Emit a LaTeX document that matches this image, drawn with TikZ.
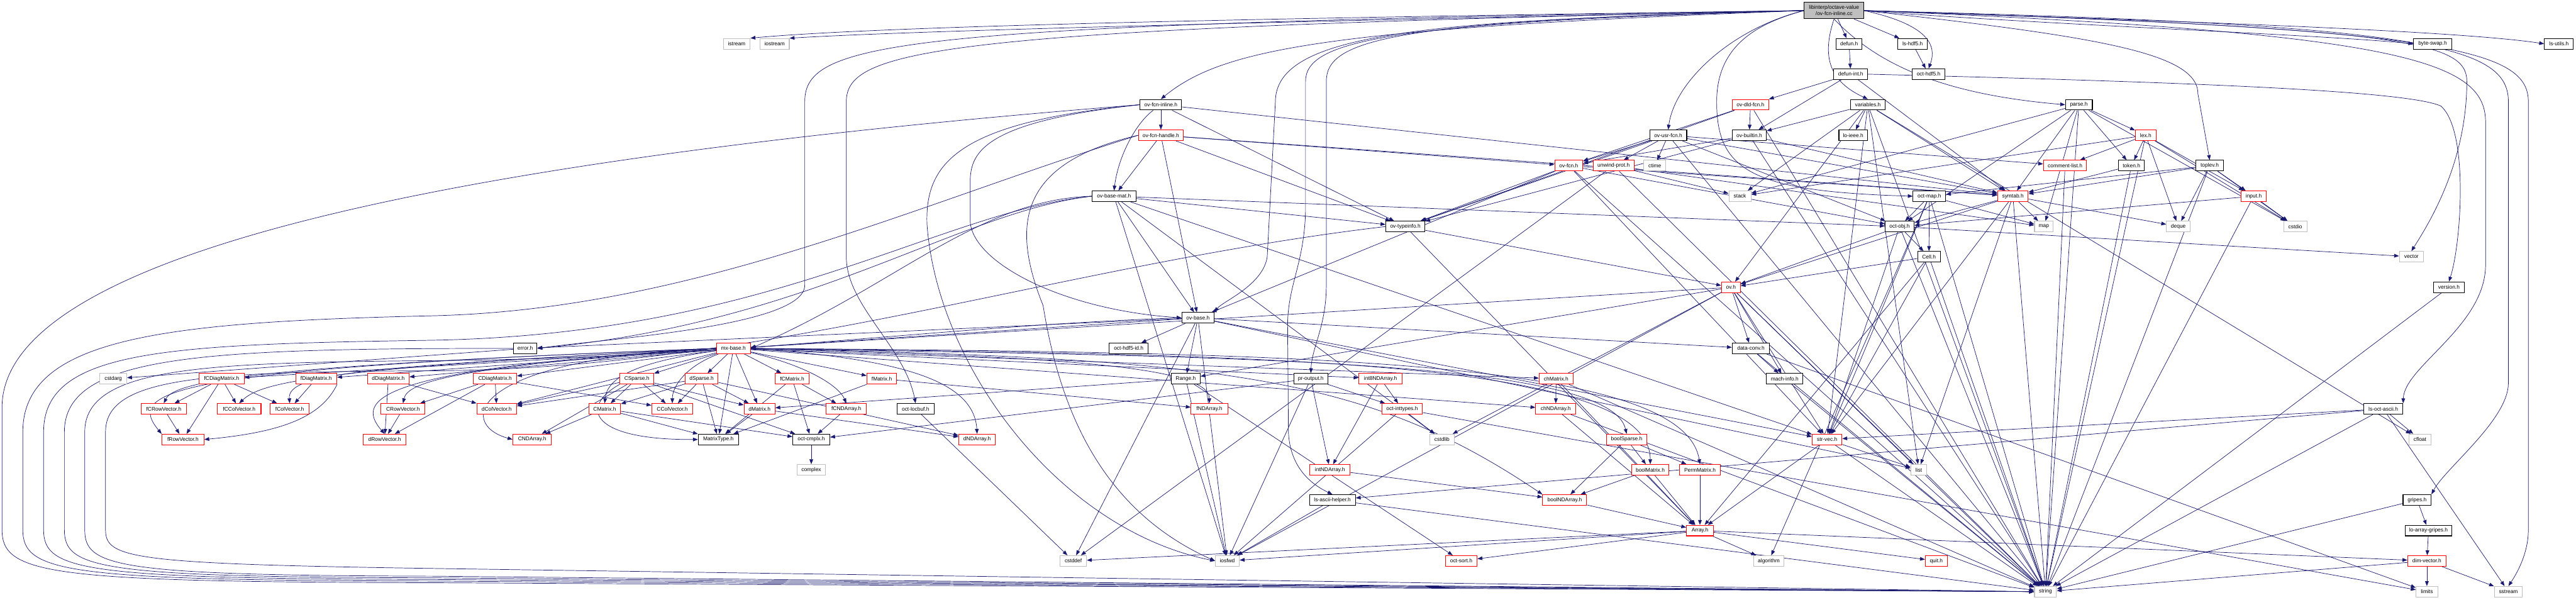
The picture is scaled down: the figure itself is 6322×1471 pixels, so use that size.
\documentclass[tikz,border=0pt]{standalone}
\usepackage{fontspec}
\setmainfont{Liberation Sans}
\usetikzlibrary{arrows.meta,backgrounds}
\definecolor{edgeblue}{HTML}{191970}
\definecolor{extgray}{HTML}{BFBFBF}
\definecolor{topgray}{HTML}{BFBFBF}
\definecolor{truncred}{HTML}{FF0000}
\tikzset{
  nbase/.style={rectangle, draw, line width=1.6bp, fill=white, font=\fontsize{13bp}{15bp}\selectfont, minimum height=26bp, inner xsep=5bp, inner ysep=2bp},
  doc/.style={nbase, draw=black},
  trunc/.style={nbase, draw=truncred},
  ext/.style={nbase, draw=extgray},
  conn/.style={draw=edgeblue, line width=1.1bp, -{Triangle[length=12bp,width=9bp]}},
}
\newcommand\mynode[6]{\node[#1,minimum width=#2bp] (#3) at (#4,#5) {#6};}
\newcommand\fan[2]{\foreach \tgt in {#2}{\draw[conn] (#1) -- (\tgt);}}
\begin{document}
\begin{tikzpicture}[x=1bp,y=-1bp]
\useasboundingbox (0,0) rectangle (6322,1471);
% ---------- nodes ----------
\node[doc, fill=topgray, minimum width=146bp, minimum height=40bp, align=center] (top) at (4501,26) {libinterp/octave-value\\/ov-fcn-inline.cc};
% R1
\mynode{ext}{66}{istream}{1808}{107.5}{istream}
\mynode{ext}{72}{iostream}{1901}{107.5}{iostream}
\mynode{doc}{64}{defun}{4538}{107.5}{defun.h}
\mynode{doc}{72}{lshdf5}{4694}{107.5}{ls-hdf5.h}
\mynode{doc}{93}{byteswap}{5970}{107.5}{byte-swap.h}
\mynode{doc}{71}{lsutils}{6280}{107.5}{ls-utils.h}
% R2
\mynode{doc}{83}{defunint}{4542}{182}{defun-int.h}
\mynode{doc}{80}{octhdf5}{4733}{182}{oct-hdf5.h}
% R3
\mynode{doc}{102}{fcninline}{2849}{257}{ov-fcn-inline.h}
\mynode{trunc}{90}{dldfcn}{4296}{257}{ov-dld-fcn.h}
\mynode{doc}{86}{variables}{4584}{257}{variables.h}
\mynode{doc}{66}{parse}{5102}{257}{parse.h}
% R4
\mynode{trunc}{110}{fcnhandle}{2849}{332}{ov-fcn-handle.h}
\mynode{doc}{91}{usrfcn}{4094}{332}{ov-usr-fcn.h}
\mynode{doc}{84}{builtin}{4293}{332}{ov-builtin.h}
\mynode{doc}{70}{loieee}{4548}{332}{lo-ieee.h}
\mynode{trunc}{51}{lex}{5266}{332}{lex.h}
% R5
\mynode{trunc}{69}{ovfcn}{3850}{406.5}{ov-fcn.h}
\mynode{trunc}{100}{unwind}{3960}{406.5}{unwind-prot.h}
\mynode{ext}{55}{ctime}{4061}{406.5}{ctime}
\mynode{trunc}{106}{commentlist}{5068}{406.5}{comment-list.h}
\mynode{doc}{64}{token}{5231}{406.5}{token.h}
\mynode{doc}{68}{toplev}{5423}{406.5}{toplev.h}
% R6
\mynode{doc}{107}{basemat}{2734}{481.5}{ov-base-mat.h}
\mynode{ext}{54}{stack}{4270}{481.5}{stack}
\mynode{doc}{80}{octmap}{4735}{481.5}{oct-map.h}
\mynode{trunc}{75}{symtab}{4940}{481.5}{symtab.h}
\mynode{trunc}{61}{input}{5531}{481.5}{input.h}
% R7
\mynode{doc}{96}{typeinfo}{3449}{556}{ov-typeinfo.h}
\mynode{doc}{71}{octobj}{4662}{556}{oct-obj.h}
\mynode{ext}{46}{map}{5016}{556}{map}
\mynode{ext}{58}{deque}{5346}{556}{deque}
\mynode{ext}{57}{cstdio}{5633}{556}{cstdio}
% R8
\mynode{doc}{56}{cell}{4734}{630}{Cell.h}
\mynode{ext}{59}{vector}{5918}{630}{vector}
% R9
\mynode{trunc}{46}{ovh}{4248}{705}{ov.h}
\mynode{doc}{75}{version}{6010}{705}{version.h}
% R10
\mynode{doc}{79}{ovbase}{2940}{780}{ov-base.h}
% R11
\mynode{doc}{58}{error}{1289}{855}{error.h}
\mynode{trunc}{83}{mxbase}{1800}{855}{mx-base.h}
\mynode{doc}{95}{hdf5id}{2770}{855}{oct-hdf5-id.h}
\mynode{doc}{92}{dataconv}{4297}{855}{data-conv.h}
% R12
\mynode{ext}{66}{cstdarg}{278}{929.5}{cstdarg}
\mynode{trunc}{110}{fCDiag}{544}{929.5}{fCDiagMatrix.h}
\mynode{trunc}{101}{fDiag}{776}{929.5}{fDiagMatrix.h}
\mynode{trunc}{102}{dDiag}{953}{929.5}{dDiagMatrix.h}
\mynode{trunc}{106}{CDiag}{1215}{929.5}{CDiagMatrix.h}
\mynode{trunc}{83}{CSparse}{1563}{929.5}{CSparse.h}
\mynode{trunc}{81}{dSparse}{1722}{929.5}{dSparse.h}
\mynode{trunc}{83}{fCMatrix}{1944}{929.5}{fCMatrix.h}
\mynode{trunc}{73}{fMatrix}{2164}{929.5}{fMatrix.h}
\mynode{doc}{71}{range}{2910}{929.5}{Range.h}
\mynode{doc}{83}{proutput}{3217}{929.5}{pr-output.h}
\mynode{trunc}{106}{int8ND}{3388}{929.5}{int8NDArray.h}
\mynode{trunc}{83}{chMatrix}{3819}{929.5}{chMatrix.h}
\mynode{doc}{90}{machinfo}{4380}{929.5}{mach-info.h}
% R13
\mynode{trunc}{112}{fCRow}{402}{1003.5}{fCRowVector.h}
\mynode{trunc}{107}{fCCol}{587}{1003.5}{fCColVector.h}
\mynode{trunc}{95}{fCol}{711}{1003.5}{fColVector.h}
\mynode{trunc}{108}{CRow}{989}{1003.5}{CRowVector.h}
\mynode{trunc}{98}{dCol}{1219}{1003.5}{dColVector.h}
\mynode{trunc}{78}{CMatrix}{1484}{1003.5}{CMatrix.h}
\mynode{trunc}{101}{CCol}{1650}{1003.5}{CColVector.h}
\mynode{trunc}{76}{dMatrix}{1864}{1003.5}{dMatrix.h}
\mynode{trunc}{98}{fCND}{2077}{1003.5}{fCNDArray.h}
\mynode{doc}{91}{locbuf}{2247}{1003.5}{oct-locbuf.h}
\mynode{trunc}{90}{fND}{2968}{1003.5}{fNDArray.h}
\mynode{trunc}{100}{inttypes}{3441}{1003.5}{oct-inttypes.h}
\mynode{trunc}{98}{chND}{3818}{1003.5}{chNDArray.h}
\mynode{doc}{96}{lsoctascii}{5849}{1003.5}{ls-oct-ascii.h}
% R14
\mynode{trunc}{103}{fRow}{449}{1078.5}{fRowVector.h}
\mynode{trunc}{106}{dRow}{944}{1078.5}{dRowVector.h}
\mynode{trunc}{95}{CND}{1306}{1078.5}{CNDArray.h}
\mynode{doc}{99}{matrixtype}{1763}{1078.5}{MatrixType.h}
\mynode{doc}{91}{cmplx}{1991}{1078.5}{oct-cmplx.h}
\mynode{trunc}{90}{dND}{2398}{1078.5}{dNDArray.h}
\mynode{ext}{59}{cstdlib}{3539}{1078.5}{cstdlib}
\mynode{trunc}{98}{boolSparse}{3992}{1078.5}{boolSparse.h}
\mynode{trunc}{73}{strvec}{4484}{1078.5}{str-vec.h}
\mynode{ext}{55}{cfloat}{5939}{1078.5}{cfloat}
% R15
\mynode{ext}{70}{complex}{1991}{1153}{complex}
\mynode{trunc}{99}{intND}{3264}{1153}{intNDArray.h}
\mynode{trunc}{92}{boolMatrix}{4050}{1153}{boolMatrix.h}
\mynode{trunc}{101}{perm}{4172}{1153}{PermMatrix.h}
\mynode{ext}{39}{list}{4709}{1153}{list}
% R16
\mynode{doc}{113}{lsascii}{3270}{1227}{ls-ascii-helper.h}
\mynode{trunc}{108}{boolND}{3840}{1227}{boolNDArray.h}
\mynode{doc}{69}{gripes}{5932}{1227}{gripes.h}
% R17
\mynode{trunc}{66}{array}{4172}{1302}{Array.h}
\mynode{doc}{115}{loarraygripes}{5960}{1302}{lo-array-gripes.h}
% R18
\mynode{ext}{65}{cstddef}{2634}{1376.5}{cstddef}
\mynode{ext}{59}{iosfwd}{3012}{1376.5}{iosfwd}
\mynode{trunc}{78}{octsort}{3586}{1376.5}{oct-sort.h}
\mynode{ext}{74}{algorithm}{4341}{1376.5}{algorithm}
\mynode{trunc}{54}{quit}{4752}{1376.5}{quit.h}
\mynode{trunc}{94}{dimvector}{5956}{1376.5}{dim-vector.h}
% R19
\mynode{ext}{54}{string}{5020}{1452}{string}
\mynode{ext}{53}{limits}{5956}{1452}{limits}
\mynode{ext}{69}{sstream}{6156}{1452}{sstream}
% ---------- edges ----------
\begin{scope}[on background layer]
\fill[white] (0,0) rectangle (6322,1471);
% top node
\fan{top}{defun,lshdf5}
\draw[conn] (top.west) .. controls (3400,40) and (2200,60) .. (istream.north east);
\draw[conn] (top.west) .. controls (3400,48) and (2300,72) .. (iostream.north east);
\draw[conn] (top.east) .. controls (4730,60) and (4755,110) .. (octhdf5.north);
\draw[conn] (top.west) .. controls (3250,70) and (3000,120) .. (fcninline.north);
\draw[conn] (top.west) .. controls (4250,70) and (4110,200) .. (usrfcn.north);
\draw[conn] (top.south) .. controls (4470,140) and (4490,200) .. (variables.north);
\draw[conn] (top.south) .. controls (4600,150) and (4750,230) .. (parse.west);
\draw[conn] (top.west) .. controls (4300,60) and (4213,120) .. (4213,250) .. controls (4213,420) and (4300,470) .. (octmap.west);
\draw[conn] (top.east) .. controls (5150,90) and (5394,130) .. (5394,230) -- (toplev.north);
\draw[conn] (top.east) .. controls (5000,60) and (5700,85) .. (byteswap.west);
\draw[conn] (top.east) .. controls (5100,45) and (6000,70) .. (lsutils.west);
\draw[conn] (top.east) .. controls (5900,70) and (6054,100) .. (6054,200) .. controls (6054,400) and (5960,550) .. (vector.north);
\draw[conn] (top.east) .. controls (6000,70) and (6205,120) .. (6205,250) -- (6205,1300) .. controls (6205,1360) and (6175,1410) .. (sstream.north);
\draw[conn] (top.east) .. controls (5950,60) and (6156,110) .. (6156,250) -- (6156,940) .. controls (6156,1030) and (6000,1150) .. (gripes.north east);
\draw[conn] (top.east) .. controls (5900,80) and (6100,150) .. (6100,300) -- (6100,650) .. controls (6100,800) and (5900,900) .. (lsoctascii.north east);
\draw[conn] (top.west) .. controls (3500,50) and (3130,80) .. (3130,250) -- (3110,630) .. controls (3100,700) and (3000,740) .. (ovbase.north east);
\draw[conn] (top.west) .. controls (2200,60) and (1975,100) .. (1975,250) -- (1975,700) .. controls (1975,800) and (1500,830) .. (error.east);
\draw[conn] (top.west) .. controls (2300,70) and (2077,120) .. (2077,250) -- (2077,630) .. controls (2077,750) and (2220,850) .. (locbuf.north);
\draw[conn] (top.west) .. controls (3400,50) and (3255,100) .. (3255,200) -- (3255,700) .. controls (3255,800) and (3220,850) .. (proutput.north);
\draw[conn] (top.west) .. controls (3400,55) and (3204,100) .. (3204,200) -- (3204,520) .. controls (3200,650) and (3160,700) .. (3160,800) -- (3162,1060) .. controls (3165,1130) and (3200,1180) .. (lsascii.north);
% upper layers
\fan{defun}{defunint}
\fan{lshdf5}{octhdf5}
\fan{defunint}{dldfcn,builtin,symtab}
\draw[conn] (defunint.east) .. controls (5300,200) and (5900,220) .. (5990,260) .. controls (6060,320) and (6040,600) .. (version.north);
\fan{fcninline}{fcnhandle,typeinfo,symtab}
\draw[conn] (fcninline) .. controls (2790,300) and (2745,380) .. (basemat.north);
\draw[conn] (fcninline.west) .. controls (2400,300) and (2381,380) .. (2381,450) -- (2381,540) .. controls (2381,640) and (2600,760) .. (ovbase.west);
\draw[conn] (fcninline.west) .. controls (2350,300) and (2270,400) .. (2275,550) .. controls (2300,900) and (2600,1300) .. (iosfwd.west);
\fan{fcnhandle}{ovfcn,basemat,typeinfo,ovbase,symtab}
\draw[conn] (fcnhandle.west) .. controls (2500,400) and (2480,550) .. (2560,750) .. controls (2600,1000) and (2700,1250) .. (iosfwd.west);
\fan{basemat}{typeinfo,octobj,strvec,ovbase,cstdlib,iosfwd}
\draw[conn] (basemat.west) .. controls (2400,490) and (2200,700) .. (mxbase.east);
\draw[conn] (basemat.west) .. controls (2350,520) and (2000,790) .. (error.east);
\fan{usrfcn}{ovfcn,unwind,ctime,typeinfo,commentlist,octobj,symtab,string}
\fan{ovfcn}{typeinfo,ovbase,strvec,octobj,symtab,string}
\fan{unwind}{stack,map,string,cstddef}
\fan{dldfcn}{builtin,ovfcn,typeinfo,string}
\fan{builtin}{ovfcn,typeinfo,symtab,string}
\fan{variables}{builtin,loieee,ovh,symtab,stack,string,cfloat,strvec,list}
\fan{parse}{lex,token,symtab,map,octobj,stack,cstdio,string}
\fan{commentlist}{string}
\fan{lex}{commentlist,token,input,deque,cstdio,stack,string}
\fan{token}{symtab,string}
\fan{toplev}{input,deque,cstdio,symtab,octmap,string}
\fan{input}{cstdio,octobj,string}
\fan{octmap}{octobj,cell,map,string,strvec,algorithm}
\fan{symtab}{map,octobj,ovh,string,list,strvec,deque}
\fan{octobj}{cell,ovh,vector,strvec,string}
\fan{cell}{ovh,strvec,array,string}
\fan{typeinfo}{ovh,array}
\fan{ovh}{dataconv,machinfo,strvec,list,string,range,mxbase,iosfwd,cstdlib}
\fan{ovbase}{hdf5id,range,iosfwd,cstddef,mxbase,error,strvec,list,dataconv}
\fan{error}{cstdarg}
\fan{dataconv}{machinfo,string,limits}
\fan{machinfo}{string}
\fan{strvec}{list,string,array}
% mx-base
\fan{mxbase}{fCDiag,fDiag,dDiag,CDiag,CSparse,dSparse,fCMatrix,dMatrix,matrixtype,dCol,fMatrix,int8ND,chMatrix,chND}
\draw[conn] (mxbase.west) .. controls (700,895) and (430,930) .. (fCRow.north);
\draw[conn] (mxbase.west) .. controls (400,905) and (310,960) .. (fRow.north west);
\draw[conn] (mxbase.west) .. controls (760,905) and (640,940) .. (fCCol.north);
\draw[conn] (mxbase.west) .. controls (900,900) and (705,915) .. (fCol.north);
\draw[conn] (mxbase.west) .. controls (1100,900) and (1000,940) .. (CRow.north);
\draw[conn] (mxbase.west) .. controls (920,905) and (870,980) .. (dRow.north);
\draw[conn] (mxbase) .. controls (1680,900) and (1650,950) .. (CCol.north);
\draw[conn] (mxbase) .. controls (1550,890) and (1490,930) .. (CMatrix.north);
\draw[conn] (mxbase) .. controls (1990,900) and (2060,950) .. (fCND.north);
\draw[conn] (mxbase.west) .. controls (1150,880) and (1120,1040) .. (CND.west);
\draw[conn] (mxbase.east) .. controls (2500,875) and (2968,890) .. (fND.north);
\draw[conn] (mxbase.east) .. controls (2200,880) and (2390,930) .. (dND.north);
\draw[conn] (mxbase.east) .. controls (3000,875) and (3950,880) .. (boolSparse.north);
\draw[conn] (mxbase.east) .. controls (3100,870) and (4050,880) .. (boolMatrix.north);
\draw[conn] (mxbase.east) .. controls (3200,865) and (4130,880) .. (perm.north);
\draw[conn] (mxbase.east) .. controls (3000,880) and (3350,920) .. (boolND.north west);
% matrix classes
\fan{fCDiag}{fCRow,fCCol,fCol,fRow}
\fan{fDiag}{fCol}
\draw[conn] (fDiag.south east) .. controls (790,1020) and (700,1060) .. (fRow.east);
\fan{fCRow}{fRow}
\fan{dDiag}{dRow,dCol}
\fan{CDiag}{dCol,CCol,CRow,dRow}
\fan{CRow}{dRow}
\fan{CSparse}{CMatrix,CCol,dCol,dMatrix,CND,cmplx}
\draw[conn] (CSparse.south west) .. controls (1420,1000) and (1450,1080) .. (matrixtype.west);
\fan{dSparse}{CCol,dMatrix,CMatrix,matrixtype,dCol,dND}
\fan{fCMatrix}{fCND,cmplx,matrixtype}
\fan{fMatrix}{fND,matrixtype}
\fan{dMatrix}{matrixtype,dND}
\fan{CMatrix}{CND,matrixtype,cmplx}
\fan{fCND}{cmplx}
\fan{cmplx}{complex}
\fan{range}{dMatrix,iosfwd,octsort}
\fan{proutput}{intND,inttypes,cmplx,iosfwd}
\fan{int8ND}{intND,inttypes}
\fan{intND}{boolND}
\fan{inttypes}{cstdlib,limits,iosfwd}
\fan{chMatrix}{chND,array,string}
\fan{chND}{array,string}
\fan{boolSparse}{boolND,boolMatrix,perm}
\fan{boolMatrix}{boolND,array}
\fan{perm}{array}
\fan{boolND}{array}
\fan{lsascii}{iosfwd,string}
\fan{lsoctascii}{cfloat,sstream,string,strvec,lsascii}
\fan{gripes}{loarraygripes,string}
\fan{loarraygripes}{dimvector}
\fan{dimvector}{limits,sstream,string}
\fan{array}{algorithm,quit,dimvector,octsort,cstddef,iosfwd}
\fan{locbuf}{cstddef}
\fan{version}{string}
% long sweeps round the left side to string
\draw[conn] (fcninline.west) .. controls (1500,360) and (5,560) .. (5,1000) -- (5,1300) .. controls (5,1410) and (120,1428) .. (1060,1430) -- (string.west);
\draw[conn] (fcnhandle.west) .. controls (2250,500) and (1700,760) .. (1060,775) .. controls (400,790) and (56,830) .. (56,1060) -- (56,1300) .. controls (56,1405) and (160,1424) .. (1060,1426) -- (string.west);
\draw[conn] (basemat.west) .. controls (2300,520) and (1900,820) .. (1060,835) .. controls (400,845) and (107,860) .. (107,1060) -- (107,1300) .. controls (107,1400) and (200,1420) .. (1060,1422) -- (string.west);
\draw[conn] (error.west) .. controls (500,855) and (158,870) .. (158,1060) -- (158,1300) .. controls (158,1395) and (240,1416) .. (1060,1418) -- (string.west);
\draw[conn] (ovbase.west) .. controls (2300,800) and (1800,880) .. (1060,885) .. controls (500,890) and (208,900) .. (208,1060) -- (208,1300) .. controls (208,1390) and (280,1412) .. (1060,1414) -- (string.west);
\draw[conn] (typeinfo.west) .. controls (2600,650) and (1900,905) .. (1060,910) .. controls (500,912) and (259,925) .. (259,1060) -- (259,1300) .. controls (259,1370) and (320,1384) .. (1060,1395) -- (string.west);
\end{scope}
\end{tikzpicture}
\end{document}
